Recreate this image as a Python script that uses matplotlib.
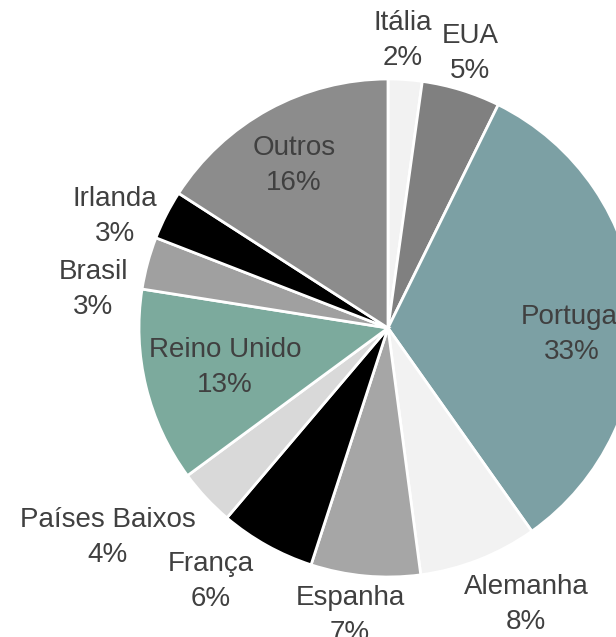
import matplotlib
matplotlib.use('Agg')
import matplotlib.pyplot as plt
import numpy as np

countries = ['Itália', 'EUA', 'Portugal', 'Alemanha', 'Espanha', 'França',
             'Países Baixos', 'Reino Unido', 'Brasil', 'Irlanda', 'Outros']
shares = [2.2, 5.1, 32.9, 7.7, 7.1, 6.2, 3.7, 12.6, 3.4, 3.2, 15.9]
pct_labels = ['2%', '5%', '33%', '8%', '7%', '6%', '4%', '13%', '3%', '3%', '16%']

colors = ['#f2f2f2', '#808080', '#7ca0a4', '#f2f2f2', '#a6a6a6', '#000000',
          '#d9d9d9', '#7caa9d', '#a0a0a0', '#000000', '#8c8c8c']
# label placement: radius (in pie radii) and angular shift (deg, clockwise)
label_r = [1.158, 1.149, 0.739, 1.243, 1.163, 1.243, 1.405, 0.674, 1.195, 1.185, 0.756]
label_shift = [-1, -0.4, 6.4, -5.1, 2.3, 5.7, 6.3, 0, -7.6, -4.7, -1.4]

plt.rcParams['font.family'] = ['Liberation Sans', 'DejaVu Sans']

W, H = 616, 637
cx, cy, R = 388, 309, 249
fig = plt.figure(figsize=(W / 100, H / 100), dpi=100)
ax = fig.add_axes([0, 0, 1, 1])
ax.axis('off')

wedges, _ = ax.pie(shares, colors=colors, startangle=90, counterclock=False,
                   radius=1.0, wedgeprops=dict(edgecolor='white', linewidth=2.0))
ax.set_xlim(-cx / R, (W - cx) / R)
ax.set_ylim(-cy / R, (H - cy) / R)
ax.set_aspect('equal')

total = sum(shares)
cum = 0
for name, s, p, r, sh in zip(countries, shares, pct_labels, label_r, label_shift):
    mid = (cum + s / 2) / total * 360 + sh
    cum += s
    t = np.deg2rad(mid)
    ax.text(r * np.sin(t), r * np.cos(t), name + '\n' + p, ha='center', va='center',
            fontsize=20, color='#404040', linespacing=1.45)

fig.savefig('out.png', dpi=100)
